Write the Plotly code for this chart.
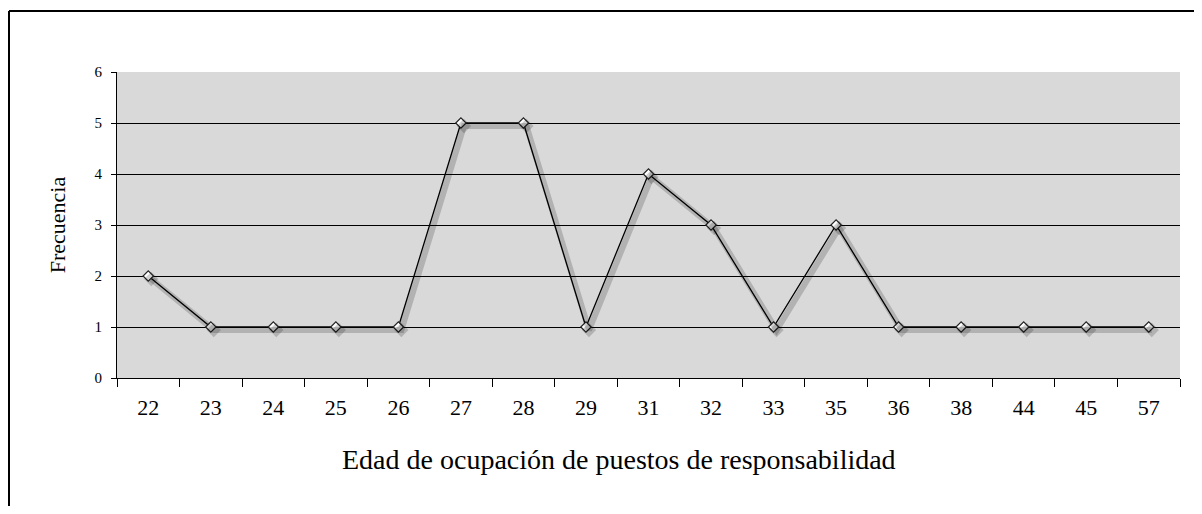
import plotly.graph_objects as go

# edad (categorías) y frecuencia
edades = ["22", "23", "24", "25", "26", "27", "28", "29", "31", "32", "33",
          "35", "36", "38", "44", "45", "57"]
frecuencia = [2, 1, 1, 1, 1, 5, 5, 1, 4, 3, 1, 3, 1, 1, 1, 1, 1]
y_ticks = [0, 1, 2, 3, 4, 5, 6]

# the page body has an 8px margin, so the figure is a bit smaller than the window
W, H = 1186, 498
L, R, T, B = 109, 14, 64, 128
pw, ph = W - L - R, H - T - B
serif = "Liberation Serif, Times New Roman, serif"

n = len(edades)
unit_x = n / pw          # category units per pixel
unit_y = 6 / ph          # y units per pixel
sx, sy = 3, 3            # shadow offset in px


def px_x(p):
    # paper-pixel x -> paper fraction
    return (p - L) / pw


def px_y(p):
    # paper-pixel y (from top) -> paper fraction
    return (T + ph - p) / ph


fig = go.Figure()

# drop shadow, drawn on shifted overlay axes
fig.add_trace(go.Scatter(
    x=edades, y=frecuencia, xaxis="x2", yaxis="y2",
    mode="lines+markers",
    line=dict(color="rgba(0,0,0,0.18)", width=6),
    marker=dict(symbol="diamond", size=11, color="rgba(0,0,0,0.18)"),
    hoverinfo="skip", showlegend=False,
))

fig.add_trace(go.Scatter(
    x=edades, y=frecuencia,
    mode="lines+markers",
    line=dict(color="black", width=1.3),
    marker=dict(symbol="diamond", size=8, color="white",
                line=dict(color="#222", width=1.2)),
    showlegend=False,
))

fig.update_layout(
    width=W, height=H,
    margin=dict(l=L, r=R, t=T, b=B),
    paper_bgcolor="white",
    plot_bgcolor="#d9d9d9",
    font=dict(family=serif, color="black"),
    xaxis=dict(
        type="category", categoryorder="array", categoryarray=edades,
        range=[-0.5, n - 0.5],
        showgrid=False, zeroline=False,
        showline=True, linecolor="black", linewidth=1,
        ticks="outside", tickson="boundaries", ticklen=8, tickcolor="black",
        ticklabelstandoff=10,
        tickfont=dict(size=22, family=serif),
    ),
    yaxis=dict(
        range=[0, 6], tickvals=y_ticks,
        showgrid=True, gridcolor="black", gridwidth=1,
        zeroline=False,
        showline=True, linecolor="black", linewidth=1,
        ticks="outside", ticklen=5, tickcolor="black",
        ticklabelstandoff=6,
        tickfont=dict(size=15, family=serif),
        title=dict(text="Frecuencia", font=dict(size=22, family=serif), standoff=22),
    ),
    xaxis2=dict(
        type="category", categoryorder="array", categoryarray=edades,
        overlaying="x", range=[-0.5 - sx * unit_x, n - 0.5 - sx * unit_x],
        visible=False,
    ),
    yaxis2=dict(
        overlaying="y", range=[0 + sy * unit_y, 6 + sy * unit_y],
        visible=False,
    ),
    annotations=[
        # x axis title sits a little left of the plot centre in the original
        dict(text="Edad de ocupación de puestos de responsabilidad",
             xref="paper", yref="paper", x=px_x(611), y=px_y(451),
             xanchor="center", yanchor="middle", showarrow=False,
             font=dict(size=28, family=serif)),
    ],
    shapes=[
        # outer chart frame (left and top edges)
        dict(type="line", xref="paper", yref="paper",
             x0=px_x(1), x1=px_x(1), y0=px_y(H + 10), y1=px_y(3),
             line=dict(color="black", width=2)),
        dict(type="line", xref="paper", yref="paper",
             x0=px_x(1), x1=px_x(W + 10), y0=px_y(3), y1=px_y(3),
             line=dict(color="black", width=2)),
    ],
)

fig.write_html("out.html")
